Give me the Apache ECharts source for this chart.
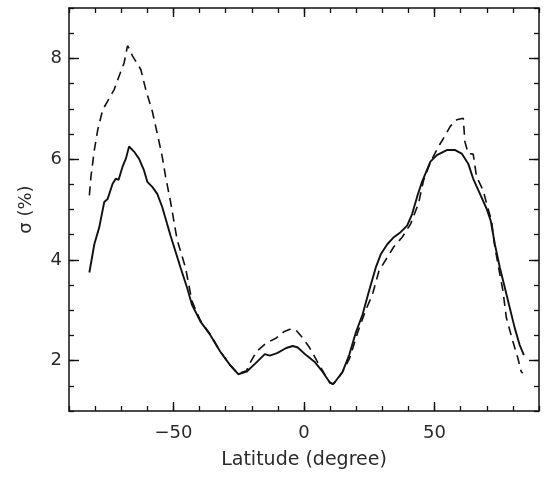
<!DOCTYPE html>
<html>
<head>
<meta charset="utf-8">
<script src="https://cdn.jsdelivr.net/npm/echarts@6/dist/echarts.min.js"></script>
<style>
html,body{margin:0;padding:0;background:#fff;}
#chart{width:549px;height:484px;}
</style>
</head>
<body>
<div id="chart"></div>
<script>
// Solid curve
var solidLat = [-82.2,-80.3,-78.4,-76.5,-75.2,-73.3,-72.1,-71.0,-69.5,-68.2,-67.0,-65.1,-63.2,-61.3,-60.0,-58.1,-56.2,-54.3,-52.4,-51.1,-47.3,-44.8,-42.9,-39.7,-35.9,-32.1,-28.3,-25.2,-22.0,-18.5,-15.0,-13.1,-10.3,-6.8,-4.3,-2.4,0.8,4.0,7.1,9.7,11.0,12.2,14.8,17.3,19.8,22.4,24.9,27.5,29.4,31.9,34.4,37.0,39.5,41.4,43.3,45.2,48.4,50.9,54.7,57.9,60.4,62.9,64.8,67.4,69.9,71.5,73.1,75.0,76.9,78.8,80.7,82.6,84.2];
var solidSigma = [3.75,4.31,4.65,5.15,5.21,5.51,5.61,5.59,5.85,6.01,6.25,6.15,6.01,5.78,5.55,5.45,5.31,5.05,4.71,4.48,3.85,3.45,3.11,2.78,2.51,2.18,1.91,1.73,1.78,1.95,2.13,2.10,2.15,2.25,2.29,2.26,2.11,1.98,1.78,1.58,1.53,1.60,1.78,2.11,2.55,2.91,3.38,3.85,4.11,4.31,4.45,4.55,4.68,4.91,5.25,5.55,5.95,6.08,6.18,6.18,6.11,5.91,5.61,5.31,5.02,4.78,4.31,3.85,3.45,3.05,2.65,2.31,2.11];
// Dashed curve
var dashLat = [-82.2,-81.6,-80.3,-79.0,-77.1,-75.2,-72.7,-70.8,-68.9,-67.6,-66.7,-65.7,-62.5,-60.6,-58.1,-56.2,-54.3,-53.0,-51.1,-48.6,-45.4,-42.9,-39.7,-35.9,-32.1,-28.3,-25.2,-22.0,-20.7,-18.2,-14.4,-10.6,-7.5,-5.0,-3.0,-0.5,2.1,5.0,8.0,10.0,11.2,12.5,14.8,17.5,20.5,23.7,26.2,28.7,31.9,34.4,37.6,40.8,43.9,45.8,48.5,51.5,53.4,56.0,58.5,61.0,61.6,62.9,64.8,65.5,66.1,68.6,70.3,71.8,73.1,76.2,77.5,80.0,81.9,83.2,83.8];
var dashSigma = [5.28,5.65,6.18,6.58,6.98,7.15,7.38,7.65,7.91,8.25,8.18,8.05,7.78,7.38,6.95,6.51,6.05,5.65,5.15,4.40,3.85,3.18,2.80,2.52,2.18,1.91,1.74,1.80,1.95,2.18,2.35,2.45,2.58,2.63,2.60,2.45,2.26,1.99,1.72,1.55,1.54,1.60,1.78,2.05,2.55,3.01,3.31,3.78,4.05,4.26,4.45,4.71,5.13,5.58,5.95,6.25,6.41,6.65,6.78,6.81,6.35,6.11,6.10,5.85,5.65,5.38,5.05,4.78,4.25,3.38,2.85,2.38,2.05,1.78,1.75];
// Tick labels
var xMajorTicks = [-50, 0, 50];
var yMajorTicks = [2, 4, 6, 8];

function zip(a, b) { return a.map(function (v, i) { return [v, b[i]]; }); }

var FONT = 'DejaVu Sans';
var INK = '#111';
var TXT = '#2a2a2a';

function xAxisDef(pos, major, withLabels) {
  var ax = {
    type: 'value', position: pos, min: -90, max: 90, interval: 10,
    axisLine: { show: true, onZero: false, lineStyle: { color: INK, width: 1.5 } },
    axisTick: { show: true, inside: true, length: 5, lineStyle: { color: INK, width: 1.3 } },
    axisLabel: { show: false },
    splitLine: { show: false }
  };
  if (major) {
    ax.axisLine = { show: false, onZero: false };
    ax.axisTick = { show: true, inside: true, length: 9, customValues: xMajorTicks, lineStyle: { color: INK, width: 1.4 } };
  }
  if (withLabels) {
    ax.axisLabel = {
      show: true, customValues: xMajorTicks, margin: 13, fontFamily: FONT, fontSize: 18, color: TXT,
      formatter: function (v) { return v < 0 ? '\u2212' + (-v) : String(v); }
    };
    ax.name = 'Latitude (degree)';
    ax.nameLocation = 'middle';
    ax.nameGap = 40;
    ax.nameTextStyle = { fontFamily: FONT, fontSize: 19, color: TXT };
  }
  return ax;
}

function yAxisDef(pos, major, withLabels) {
  var ax = {
    type: 'value', position: pos, min: 1, max: 9, interval: 0.5,
    axisLine: { show: true, onZero: false, lineStyle: { color: INK, width: 1.5 } },
    axisTick: { show: true, inside: true, length: 5, lineStyle: { color: INK, width: 1.3 } },
    axisLabel: { show: false },
    splitLine: { show: false }
  };
  if (major) {
    ax.axisLine = { show: false, onZero: false };
    ax.axisTick = { show: true, inside: true, length: 10, customValues: yMajorTicks, lineStyle: { color: INK, width: 1.4 } };
  }
  if (withLabels) {
    ax.axisLabel = { show: true, customValues: yMajorTicks, margin: 7, fontFamily: FONT, fontSize: 18, color: TXT };
    ax.name = '\u03c3 (%)';
    ax.nameLocation = 'middle';
    ax.nameGap = 34;
    ax.nameRotate = 90;
    ax.nameTextStyle = { fontFamily: FONT, fontSize: 18, color: TXT };
  }
  return ax;
}

var chart = echarts.init(document.getElementById('chart'), null, { renderer: 'canvas' });
chart.setOption({
  backgroundColor: '#fff',
  animation: false,
  grid: { left: 69, right: 10, top: 8, bottom: 73, containLabel: false },
  xAxis: [xAxisDef('bottom', false, true), xAxisDef('bottom', true, false), xAxisDef('top', false, false), xAxisDef('top', true, false)],
  yAxis: [yAxisDef('left', false, true), yAxisDef('left', true, false), yAxisDef('right', false, false), yAxisDef('right', true, false)],
  series: [
    {
      type: 'line', xAxisIndex: 0, yAxisIndex: 0, data: zip(solidLat, solidSigma),
      showSymbol: false, smooth: false,
      lineStyle: { color: INK, width: 1.9, type: 'solid' }
    },
    {
      type: 'line', xAxisIndex: 0, yAxisIndex: 0, data: zip(dashLat, dashSigma),
      showSymbol: false, smooth: false,
      lineStyle: { color: INK, width: 1.6, type: [9, 6] }
    }
  ]
});
</script>
</body>
</html>
